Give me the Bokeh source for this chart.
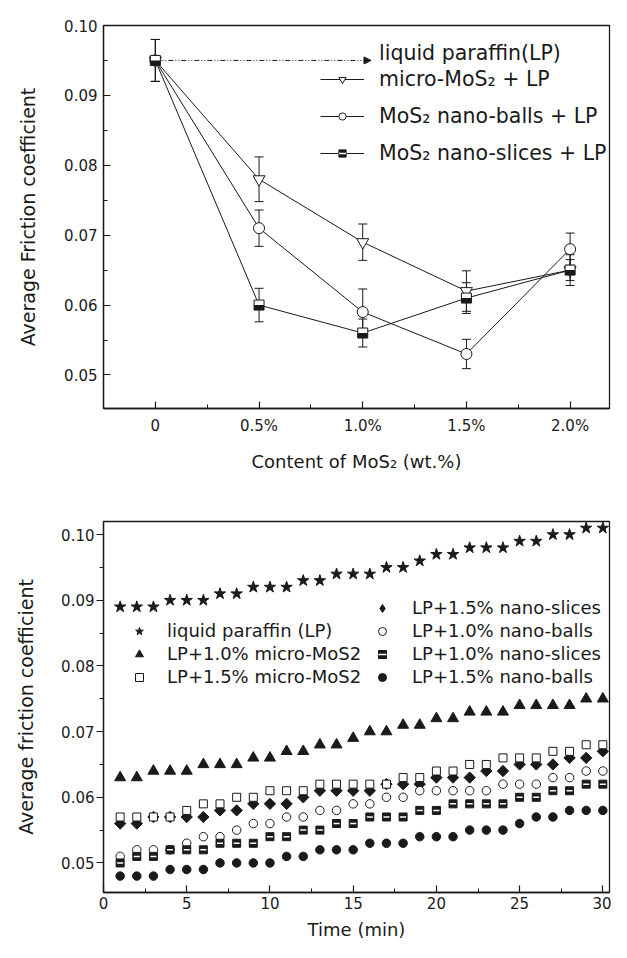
from bokeh.plotting import figure
from bokeh.layouts import column
from bokeh.models import (Range1d, FixedTicker, Whisker, TeeHead, Legend, LegendItem, Label,
                          Arrow, NormalHead, ColumnDataSource, CustomJSTickFormatter)
from bokeh.embed import file_html
from bokeh.resources import INLINE
from math import pi

# ---------------- data: panel (a) ----------------
content = [0.0, 0.5, 1.0, 1.5, 2.0]
content_labels = ["0", "0.5%", "1.0%", "1.5%", "2.0%"]
lp_value = 0.095
micro = [0.095, 0.078, 0.069, 0.062, 0.065]
micro_err = [0.003, 0.0032, 0.0026, 0.0029, 0.0015]
balls = [0.095, 0.071, 0.059, 0.053, 0.068]
balls_err = [0.003, 0.0026, 0.0033, 0.0021, 0.0023]
slices = [0.095, 0.060, 0.056, 0.061, 0.065]
slices_err = [0.003, 0.0024, 0.0020, 0.0022, 0.0022]

# ---------------- data: panel (b) ----------------
time_min = list(range(1, 31))
lp = [0.089, 0.089, 0.089, 0.090, 0.090, 0.090, 0.091, 0.091, 0.092, 0.092,
      0.092, 0.093, 0.093, 0.094, 0.094, 0.094, 0.095, 0.095, 0.096, 0.097,
      0.097, 0.098, 0.098, 0.098, 0.099, 0.099, 0.100, 0.100, 0.101, 0.101]
micro10 = [0.063, 0.063, 0.064, 0.064, 0.064, 0.065, 0.065, 0.065, 0.066, 0.066,
           0.067, 0.067, 0.068, 0.068, 0.069, 0.070, 0.070, 0.071, 0.071, 0.072,
           0.072, 0.073, 0.073, 0.073, 0.074, 0.074, 0.074, 0.074, 0.075, 0.075]
micro15 = [0.057, 0.057, 0.057, 0.057, 0.058, 0.059, 0.059, 0.060, 0.060, 0.061,
           0.061, 0.061, 0.062, 0.062, 0.062, 0.062, 0.062, 0.063, 0.063, 0.064,
           0.064, 0.065, 0.065, 0.066, 0.066, 0.066, 0.067, 0.067, 0.068, 0.068]
slices15 = [0.056, 0.056, 0.057, 0.057, 0.057, 0.057, 0.058, 0.058, 0.059, 0.059,
            0.059, 0.060, 0.061, 0.061, 0.061, 0.061, 0.062, 0.062, 0.062, 0.063,
            0.063, 0.063, 0.064, 0.064, 0.065, 0.065, 0.065, 0.066, 0.066, 0.067]
balls10 = [0.051, 0.052, 0.052, 0.052, 0.053, 0.054, 0.054, 0.055, 0.056, 0.056,
           0.057, 0.057, 0.058, 0.058, 0.059, 0.059, 0.060, 0.060, 0.061, 0.061,
           0.061, 0.061, 0.061, 0.062, 0.062, 0.062, 0.063, 0.063, 0.064, 0.064]
slices10 = [0.050, 0.051, 0.051, 0.052, 0.052, 0.052, 0.053, 0.053, 0.053, 0.054,
            0.054, 0.055, 0.055, 0.056, 0.056, 0.057, 0.057, 0.057, 0.058, 0.058,
            0.059, 0.059, 0.059, 0.059, 0.060, 0.060, 0.061, 0.061, 0.062, 0.062]
balls15 = [0.048, 0.048, 0.048, 0.049, 0.049, 0.049, 0.050, 0.050, 0.050, 0.050,
           0.051, 0.051, 0.052, 0.052, 0.052, 0.053, 0.053, 0.053, 0.054, 0.054,
           0.054, 0.055, 0.055, 0.055, 0.056, 0.057, 0.057, 0.058, 0.058, 0.058]

y_ticks = [0.05, 0.06, 0.07, 0.08, 0.09, 0.10]
y_minor = [0.055, 0.065, 0.075, 0.085, 0.095]
t_ticks = [0, 5, 10, 15, 20, 25, 30]
t_minor = [2.5, 7.5, 12.5, 17.5, 22.5, 27.5]

# ---------------- layout / style ----------------
FONT = "DejaVu Sans"
INK = "#1a1a1a"
W = 611
HA, A_L, A_R, A_T, A_B = 480, 103, 2, 25, 72
HB, B_L, B_R, B_T, B_B = 462, 103, 2, 41, 50
A_X, A_Y = (-0.25, 2.19), (0.0452, 0.100)
B_X, B_Y = (0.0, 30.4), (0.0455, 0.102)
ARROW_END = 1.04

yfmt = CustomJSTickFormatter(code="return tick.toFixed(2);")


def style_axis(ax, inward, tick_font="15px", title_font="19px"):
    ax.axis_line_color = INK
    ax.axis_line_width = 1.3
    ax.major_tick_line_color = INK
    ax.minor_tick_line_color = INK
    ax.major_tick_line_width = 1.2
    ax.minor_tick_line_width = 1.0
    if inward:
        ax.major_tick_in, ax.major_tick_out = 7, 0
        ax.minor_tick_in, ax.minor_tick_out = 4, 0
    else:
        ax.major_tick_in, ax.major_tick_out = 0, 7
        ax.minor_tick_in, ax.minor_tick_out = 0, 4
    ax.major_label_text_font = FONT
    ax.major_label_text_font_size = tick_font
    ax.major_label_text_color = INK
    ax.axis_label_text_font = FONT
    ax.axis_label_text_font_size = title_font
    ax.axis_label_text_font_style = "normal"
    ax.axis_label_text_color = INK


def frame_style(p):
    p.grid.visible = False
    p.outline_line_color = INK
    p.outline_line_width = 1.3
    p.outline_line_alpha = 1.0


# ================= panel (a) =================
pa = figure(width=W, height=HA, x_range=Range1d(*A_X), y_range=Range1d(*A_Y),
            output_backend="svg", toolbar_location=None,
            min_border_left=A_L, min_border_right=A_R,
            min_border_top=A_T, min_border_bottom=A_B)
frame_style(pa)
style_axis(pa.xaxis[0], True, title_font="18px")
style_axis(pa.yaxis[0], True)
pa.xaxis.ticker = FixedTicker(ticks=content, minor_ticks=[0.25, 0.75, 1.25, 1.75])
pa.xaxis.formatter = CustomJSTickFormatter(
    args=dict(vals=content, labs=content_labels),
    code="const i = vals.findIndex(v => Math.abs(v - tick) < 1e-9); return i >= 0 ? labs[i] : '';")
pa.yaxis.ticker = FixedTicker(ticks=y_ticks, minor_ticks=y_minor)
pa.yaxis.formatter = yfmt
pa.xaxis.axis_label = "Content of MoS\u2082 (wt.%)"
pa.yaxis.axis_label = "Average Friction coefficient"
pa.xaxis.major_label_standoff = 8
pa.yaxis.major_label_standoff = 6
pa.xaxis.axis_label_standoff = 13
pa.yaxis.axis_label_standoff = 22

line_m = pa.line(content, micro, line_color=INK, line_width=1)
line_b = pa.line(content, balls, line_color=INK, line_width=1)
line_s = pa.line(content, slices, line_color=INK, line_width=1)

for vals, errs in ((micro, micro_err), (balls, balls_err), (slices, slices_err)):
    src = ColumnDataSource(dict(x=content,
                                lo=[v - e for v, e in zip(vals, errs)],
                                hi=[v + e for v, e in zip(vals, errs)]))
    pa.add_layout(Whisker(source=src, base="x", lower="lo", upper="hi", dimension="height",
                          line_color=INK, line_width=1, level="underlay",
                          upper_head=TeeHead(size=9, line_color=INK, line_width=1),
                          lower_head=TeeHead(size=9, line_color=INK, line_width=1)))

pa.add_layout(Arrow(x_start=content[0], y_start=lp_value, x_end=ARROW_END, y_end=lp_value,
                    line_color=INK, line_width=1, line_dash="5 2 1 2 1 2", level="underlay",
                    end=NormalHead(size=7, fill_color=INK, line_color=INK, line_width=1)))

sc_b = pa.scatter(content, balls, marker="circle", size=11, fill_color="white",
                  line_color=INK, line_width=1)
sc_m = pa.scatter(content, micro, marker="inverted_triangle", size=12, fill_color="white",
                  line_color=INK, line_width=1)
# glyphs used for the legend sample of the half-filled square (hidden under the open square)
lg_sq = pa.scatter(content, slices, marker="square", size=8, fill_color=INK, line_color=INK)
lg_dash = pa.scatter(content, slices, marker="dash", size=8, line_color="white", line_width=1.5)
sc_s = pa.scatter(content, slices, marker="square", size=10, fill_color="white",
                  line_color=INK, line_width=1)
px_a = (A_Y[1] - A_Y[0]) / (HA - A_T - A_B)
pa.rect(x=content, y=[v - 2.5 * px_a for v in slices], width=10, height=5,
        width_units="screen", height_units="screen", fill_color=INK, line_color=None)

leg_a = Legend(items=[
    LegendItem(label="micro-MoS\u2082 + LP", renderers=[line_m, sc_m]),
    LegendItem(label="MoS\u2082 nano-balls + LP", renderers=[line_b, sc_b]),
    LegendItem(label="MoS\u2082 nano-slices + LP", renderers=[line_s, lg_sq, lg_dash]),
], location=(217, 243), orientation="vertical", padding=0, margin=0, spacing=13,
    glyph_width=44, glyph_height=18, label_height=24, label_standoff=15,
    label_text_font=FONT, label_text_font_size="20.5px", label_text_color=INK,
    border_line_alpha=0, background_fill_alpha=0)
pa.add_layout(leg_a)

pa.add_layout(Label(x=ARROW_END, y=lp_value, x_offset=8, y_offset=7, text="liquid paraffin(LP)",
                    text_font=FONT, text_font_size="20.5px", text_color=INK,
                    text_baseline="middle", text_align="left"))
pa.add_layout(Label(x=-103, y=HA - A_T - A_B + 7, x_units="screen", y_units="screen", text="(a)",
                    text_font="DejaVu Serif", text_font_style="bold", text_font_size="21px",
                    text_color=INK, text_baseline="middle", text_align="left"))

# ================= panel (b) =================
pb = figure(width=W, height=HB, x_range=Range1d(*B_X), y_range=Range1d(*B_Y),
            output_backend="svg", toolbar_location=None,
            min_border_left=B_L, min_border_right=B_R,
            min_border_top=B_T, min_border_bottom=B_B)
frame_style(pb)
style_axis(pb.xaxis[0], True, title_font="18px")
style_axis(pb.yaxis[0], False)
pb.xaxis.ticker = FixedTicker(ticks=t_ticks, minor_ticks=t_minor)
pb.yaxis.ticker = FixedTicker(ticks=y_ticks, minor_ticks=y_minor)
pb.yaxis.formatter = yfmt
pb.xaxis.axis_label = "Time (min)"
pb.yaxis.axis_label = "Average friction coefficient"
pb.xaxis.major_label_standoff = 4
pb.yaxis.major_label_standoff = 2
pb.xaxis.axis_label_standoff = 7
pb.yaxis.axis_label_standoff = 21

r_lp = pb.scatter(time_min, lp, marker="star", size=12, fill_color=INK, line_color=INK)
r_m10 = pb.scatter(time_min, micro10, marker="triangle", size=11, fill_color=INK, line_color=INK)
# narrow diamond drawn under the rotated square: used as the legend sample
lg_dia = pb.scatter(time_min, slices15, marker="diamond", size=8, fill_color=INK, line_color=INK)
r_s15 = pb.scatter(time_min, slices15, marker="square", angle=pi / 4, size=8,
                   fill_color=INK, line_color=INK)
r_m15 = pb.scatter(time_min, micro15, marker="square", size=8, fill_color="white",
                   line_color=INK, line_width=1)
r_b10 = pb.scatter(time_min, balls10, marker="circle", size=8.5, fill_color="white",
                   line_color=INK, line_width=1)
r_s10 = pb.scatter(time_min, slices10, marker="square", size=8, fill_color=INK,
                   line_color=INK, line_width=1)
r_s10w = pb.scatter(time_min, slices10, marker="dash", size=6, line_color="white", line_width=1.5)
r_b15 = pb.scatter(time_min, balls15, marker="circle", size=8.5, fill_color=INK, line_color=INK)

leg_style = dict(orientation="vertical", padding=0, margin=0, spacing=2,
                 glyph_width=20, glyph_height=20, label_height=21,
                 label_text_font=FONT, label_text_font_size="18px", label_text_color=INK,
                 border_line_alpha=0, background_fill_alpha=0)
leg_b1 = Legend(items=[
    LegendItem(label="liquid paraffin (LP)", renderers=[r_lp]),
    LegendItem(label="LP+1.0% micro-MoS2", renderers=[r_m10]),
    LegendItem(label="LP+1.5% micro-MoS2", renderers=[r_m15]),
], location=(26, 205), label_standoff=18, **leg_style)
leg_b2 = Legend(items=[
    LegendItem(label="LP+1.5% nano-slices", renderers=[lg_dia]),
    LegendItem(label="LP+1.0% nano-balls", renderers=[r_b10]),
    LegendItem(label="LP+1.0% nano-slices", renderers=[r_s10, r_s10w]),
    LegendItem(label="LP+1.5% nano-balls", renderers=[r_b15]),
], location=(269, 205), label_standoff=20, **leg_style)
pb.add_layout(leg_b1)
pb.add_layout(leg_b2)

pb.add_layout(Label(x=-103, y=HB - B_T - B_B - 1, x_units="screen", y_units="screen", text="(b)",
                    text_font="DejaVu Serif", text_font_style="bold", text_font_size="21px",
                    text_color=INK, text_baseline="middle", text_align="left"))

layout = column(pa, pb)
open("out.html", "w").write(file_html(layout, INLINE))
